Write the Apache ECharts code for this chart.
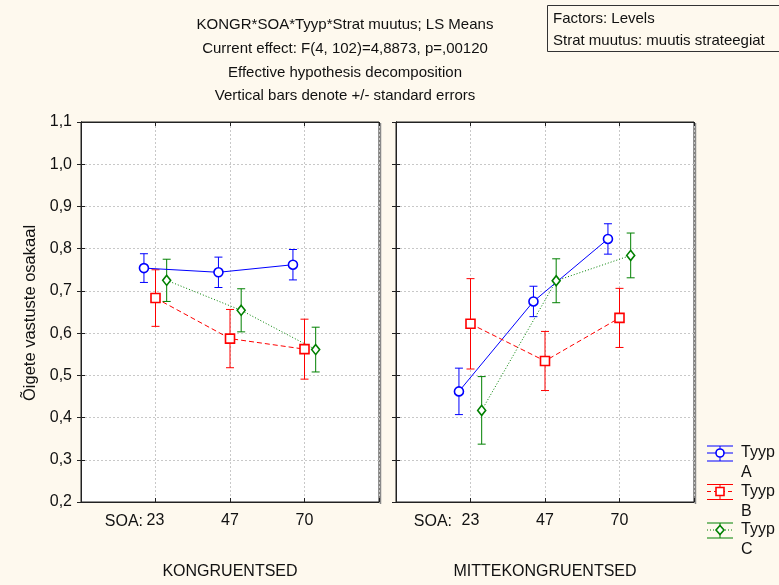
<!DOCTYPE html>
<html>
<head>
<meta charset="utf-8">
<script src="https://cdn.jsdelivr.net/npm/echarts@6/dist/echarts.min.js"></script>
<style>
html,body{margin:0;padding:0;background:#FEF9EE;}
#c{width:779px;height:585px;}
</style>
</head>
<body>
<div id="c"></div>
<script>
// ---- data ----
const soaLevels = ['23', '47', '70'];
const panelNames = ['KONGRUENTSED', 'MITTEKONGRUENTSED'];
const typeNames = ['Tyyp A', 'Tyyp B', 'Tyyp C'];
const titleLines = [
  'KONGR*SOA*Tyyp*Strat muutus; LS Means',
  'Current effect: F(4, 102)=4,8873, p=,00120',
  'Effective hypothesis decomposition',
  'Vertical bars denote +/- standard errors'
];
const factorLines = ['Factors: Levels', 'Strat muutus: muutis strateegiat'];
const yAxisTitle = 'Õigete vastuste osakaal';

// LS means and standard errors (KONGRUENTSED)
const kongMeanA = [0.754, 0.744, 0.762];
const kongSeA   = [0.034, 0.036, 0.036];
const kongMeanB = [0.683, 0.587, 0.562];
const kongSeB   = [0.067, 0.069, 0.071];
const kongMeanC = [0.725, 0.654, 0.561];
const kongSeC   = [0.050, 0.051, 0.053];
// (MITTEKONGRUENTSED)
const mittMeanA = [0.462, 0.675, 0.823];
const mittSeA   = [0.055, 0.036, 0.036];
const mittMeanB = [0.622, 0.534, 0.636];
const mittSeB   = [0.107, 0.070, 0.070];
const mittMeanC = [0.417, 0.724, 0.784];
const mittSeC   = [0.080, 0.052, 0.053];

// ---- styling ----
const colors = ['#0000FF', '#FF0000', '#008000'];
const lineTypes = ['solid', [5, 3], [1, 2]];
const symbols = ['circle', 'rect', 'diamond'];
const symbolSizes = [9, 9, [8, 10]];
const offsets = [-0.155, 0, 0.15];
const FONT = 'Liberation Sans, Arial, sans-serif';
const BG = '#FEF9EE';

const panelData = [
  {means: [kongMeanA, kongMeanB, kongMeanC], ses: [kongSeA, kongSeB, kongSeC]},
  {means: [mittMeanA, mittMeanB, mittMeanC], ses: [mittSeA, mittSeB, mittSeC]}
];

const gridBoxes = [
  {left: 81, top: 122, width: 298, height: 381},
  {left: 396, top: 122, width: 298, height: 381}
];
const grids = gridBoxes.map(g => Object.assign({show: true, backgroundColor: '#fff', borderColor: '#222', borderWidth: 1}, g));

const tickStyle = {show: true, inside: true, length: 4, lineStyle: {color: '#222', width: 1}};
const xAxes = [], yAxes = [], series = [];
panelData.forEach((pd, p) => {
  xAxes.push({
    gridIndex: p, type: 'value', min: 0, max: 4, interval: 1, position: 'bottom',
    axisLine: {show: true, lineStyle: {color: '#222', width: 1}},
    axisTick: tickStyle,
    axisLabel: {
      color: '#111', fontSize: 16, fontFamily: FONT, margin: 11,
      formatter: v => (v >= 1 && v <= 3 && Number.isInteger(v)) ? soaLevels[v - 1] : ''
    },
    splitLine: {show: true, lineStyle: {color: '#c8c8c8', type: [2, 2], width: 1}},
    name: panelNames[p], nameLocation: 'middle', nameGap: 62,
    nameTextStyle: {color: '#111', fontSize: 16, fontFamily: FONT}
  });
  xAxes.push({
    gridIndex: p, type: 'value', min: 0, max: 4, interval: 1, position: 'top',
    axisLine: {show: true, lineStyle: {color: '#222'}},
    axisTick: tickStyle,
    axisLabel: {show: false}, splitLine: {show: false}
  });
  yAxes.push({
    gridIndex: p, type: 'value', min: 0.2, max: 1.1, interval: 0.1, position: 'left',
    axisLine: {show: true, lineStyle: {color: '#222', width: 1}},
    axisTick: tickStyle,
    axisLabel: {
      show: p === 0, color: '#111', fontSize: 16, fontFamily: FONT, margin: 9,
      formatter: v => v.toFixed(1).replace('.', ',')
    },
    splitLine: {show: true, lineStyle: {color: '#c8c8c8', type: [2, 2], width: 1}}
  });
  yAxes.push({
    gridIndex: p, type: 'value', min: 0.2, max: 1.1, interval: 0.1, position: 'right',
    axisLine: {show: true, lineStyle: {color: '#222'}},
    axisTick: tickStyle,
    axisLabel: {show: false}, splitLine: {show: false}
  });

  pd.means.forEach((m, t) => {
    const pts = m.map((v, i) => [i + 1 + offsets[t], v]);
    const bars = m.map((v, i) => [i + 1 + offsets[t], v - pd.ses[t][i], v + pd.ses[t][i]]);
    series.push({
      type: 'custom', name: typeNames[t] + ' err', xAxisIndex: p * 2, yAxisIndex: p * 2,
      data: bars, z: 3, silent: true,
      renderItem: (params, api) => {
        const lo = api.coord([api.value(0), api.value(1)]);
        const hi = api.coord([api.value(0), api.value(2)]);
        const hw = 4;
        const st = {stroke: colors[t], lineWidth: 1};
        return {type: 'group', children: [
          {type: 'line', shape: {x1: lo[0], y1: lo[1], x2: hi[0], y2: hi[1]}, style: st},
          {type: 'line', shape: {x1: lo[0] - hw, y1: lo[1], x2: lo[0] + hw, y2: lo[1]}, style: st},
          {type: 'line', shape: {x1: hi[0] - hw, y1: hi[1], x2: hi[0] + hw, y2: hi[1]}, style: st}
        ]};
      }
    });
    series.push({
      type: 'line', name: typeNames[t], xAxisIndex: p * 2, yAxisIndex: p * 2,
      data: pts, z: 4, animation: false,
      symbol: symbols[t], symbolSize: symbolSizes[t], showAllSymbol: true,
      lineStyle: {color: colors[t], width: 1, type: lineTypes[t]},
      itemStyle: {color: '#fff', borderColor: colors[t], borderWidth: 1.6}
    });
  });
});

// ---- graphics (titles, box, legend) ----
const graphics = [];
// border shadows
gridBoxes.forEach(g => {
  const r = g.left + g.width + 1.5, b = g.top + g.height + 1;
  graphics.push({type: 'line', z: -1, shape: {x1: r, y1: g.top + 1, x2: r, y2: b}, style: {stroke: '#8a8a8a', lineWidth: 1.5}});
});
titleLines.forEach((s, i) => {
  graphics.push({type: 'text', x: 345, y: 25 + i * 23.7,
    style: {text: s, fill: '#111', font: '15px ' + FONT, textAlign: 'center', textVerticalAlign: 'middle'}});
});
graphics.push({type: 'rect', shape: {x: 547.5, y: 5.5, width: 260, height: 46},
  style: {fill: BG, stroke: '#333', lineWidth: 1}});
factorLines.forEach((s, i) => {
  graphics.push({type: 'text', x: 553, y: 19 + i * 22,
    style: {text: s, fill: '#111', font: '15px ' + FONT, textVerticalAlign: 'middle'}});
});
graphics.push({type: 'text', x: 30, y: 313, rotation: Math.PI / 2,
  style: {text: yAxisTitle, fill: '#111', font: '16.5px ' + FONT, textAlign: 'center', textVerticalAlign: 'middle'}});
[143, 452].forEach(xr => {
  graphics.push({type: 'text', x: xr, y: 522,
    style: {text: 'SOA:', fill: '#111', font: '16px ' + FONT, textAlign: 'right', textVerticalAlign: 'middle'}});
});
typeNames.forEach((nm, t) => {
  const cy = 453 + t * 38.5;
  const st = {stroke: colors[t], lineWidth: 1};
  graphics.push({type: 'line', shape: {x1: 707, y1: cy - 7, x2: 733, y2: cy - 7}, style: st});
  graphics.push({type: 'line', shape: {x1: 707, y1: cy + 8, x2: 733, y2: cy + 8}, style: st});
  graphics.push({type: 'line', shape: {x1: 720, y1: cy - 7, x2: 720, y2: cy + 8}, style: st});
  graphics.push({type: 'line', shape: {x1: 707, y1: cy, x2: 733, y2: cy},
    style: {stroke: colors[t], lineWidth: 1, lineDash: t === 0 ? null : (t === 1 ? [4, 3] : [1, 2])}});
  let mk;
  if (t === 0) mk = {type: 'circle', shape: {cx: 720, cy: cy, r: 4}};
  else if (t === 1) mk = {type: 'rect', shape: {x: 716, y: cy - 4, width: 8, height: 8}};
  else mk = {type: 'polygon', shape: {points: [[720, cy - 4.5], [724, cy], [720, cy + 4.5], [716, cy]]}};
  mk.style = {fill: '#fff', stroke: colors[t], lineWidth: 1.6};
  graphics.push(mk);
  const parts = nm.split(' ');
  graphics.push({type: 'text', x: 741, y: cy,
    style: {text: parts[0], fill: '#111', font: '16px ' + FONT, textVerticalAlign: 'middle'}});
  graphics.push({type: 'text', x: 741, y: cy + 20,
    style: {text: parts[1], fill: '#111', font: '16px ' + FONT, textVerticalAlign: 'middle'}});
});

const chart = echarts.init(document.getElementById('c'), null, {renderer: 'canvas'});
chart.setOption({
  backgroundColor: BG,
  animation: false,
  grid: grids,
  xAxis: xAxes,
  yAxis: yAxes,
  series: series,
  graphic: graphics
});
</script>
</body>
</html>
